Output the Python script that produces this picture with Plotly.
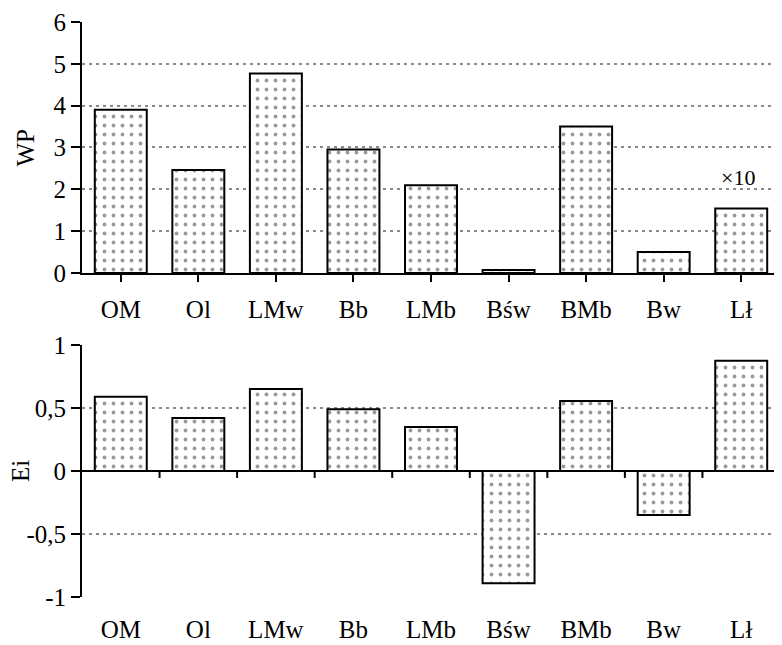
import plotly.graph_objects as go
from plotly.subplots import make_subplots

categories = ["OM", "Ol", "LMw", "Bb", "LMb", "Bśw", "BMb", "Bw", "Lł"]
wp_values = [3.9, 2.46, 4.77, 2.95, 2.1, 0.07, 3.5, 0.5, 1.54]
ei_values = [0.59, 0.42, 0.65, 0.49, 0.35, -0.89, 0.555, -0.35, 0.875]
ei_tickvals = [-1, -0.5, 0, 0.5, 1]
ei_ticktext = ["-1", "-0,5", "0", "0,5", "1"]

FONT = "Liberation Serif"

fig = make_subplots(rows=2, cols=1, vertical_spacing=0.0)

pattern = dict(shape=".", size=9, solidity=0.14, fgcolor="#333333", bgcolor="white")
bar_style = dict(marker=dict(color="white", pattern=pattern, line=dict(color="black", width=2)),
                 width=0.67, showlegend=False)

xs = list(range(len(categories)))
fig.add_trace(go.Bar(x=xs, y=wp_values, **bar_style), row=1, col=1)
fig.add_trace(go.Bar(x=xs, y=ei_values, **bar_style), row=2, col=1)

axis_font = dict(family=FONT, size=25, color="black")
grid = dict(showgrid=True, gridcolor="#8a8a8a", griddash="3px,4px", gridwidth=1.5)

# the page body adds an 8px offset, so margins are reduced by 8 on the left/top
fig.update_layout(
    width=782, height=645,
    margin=dict(l=74, r=10, t=14, b=56),
    plot_bgcolor="white", paper_bgcolor="white",
    font=axis_font,
)

# plot height = 645 - 14 - 56 = 575; top panel spans screen 22..273, bottom 345..597
fig.update_xaxes(row=1, col=1, range=[-0.5, 8.5], tickmode="array", tickvals=xs, ticktext=categories,
                 showline=True, linecolor="black", linewidth=2, ticks="outside", tickson="boundaries",
                 ticklen=7, tickwidth=2, tickcolor="black", showgrid=False, tickfont=axis_font,
                 automargin=False, ticklabelstandoff=6, domain=[0, 1])
fig.update_yaxes(row=1, col=1, range=[0, 6], dtick=1, showline=True, linecolor="black", linewidth=2,
                 ticks="outside", ticklen=9, tickwidth=2, tickcolor="black",
                 zeroline=False, tickfont=axis_font, automargin=False, ticklabeloverflow="allow",
                 **grid, domain=[0.5635, 1.0])

fig.update_xaxes(row=2, col=1, range=[-0.5, 8.5], tickmode="array", tickvals=xs, ticktext=categories,
                 showline=False, ticks="", showgrid=False, tickfont=axis_font, automargin=False,
                 ticklabelstandoff=15)
fig.update_yaxes(row=2, col=1, range=[-1, 1], tickmode="array", tickvals=ei_tickvals, ticktext=ei_ticktext,
                 showline=True, linecolor="black", linewidth=2,
                 ticks="outside", ticklen=9, tickwidth=2, tickcolor="black",
                 zeroline=True, zerolinecolor="black", zerolinewidth=2, tickfont=axis_font,
                 automargin=False, ticklabeloverflow="allow", **grid, domain=[0.0, 0.4383])

# tick marks on the zero line at category boundaries (bottom plot)
for k in range(1, len(categories)):
    fig.add_shape(type="line", xref="x2", yref="y2", x0=k - 0.5, x1=k - 0.5, y0=0, y1=-0.055,
                  line=dict(color="black", width=2))

# axis titles
fig.add_annotation(xref="paper", yref="y domain", x=0, y=0.5, xanchor="center", yanchor="middle",
                   xshift=-57, text="WP", textangle=-90,
                   showarrow=False, font=dict(family=FONT, size=25, color="black"))
fig.add_annotation(xref="paper", yref="y2 domain", x=0, y=0.5, xanchor="center", yanchor="middle",
                   xshift=-61, text="Ei", textangle=-90,
                   showarrow=False, font=dict(family=FONT, size=25, color="black"))

fig.add_annotation(x=8, y=wp_values[8], xref="x", yref="y", text="×10", showarrow=False,
                   xanchor="center", yanchor="middle",
                   yshift=31, xshift=-3, font=dict(family=FONT, size=22, color="black"))

fig.write_html("out.html")
